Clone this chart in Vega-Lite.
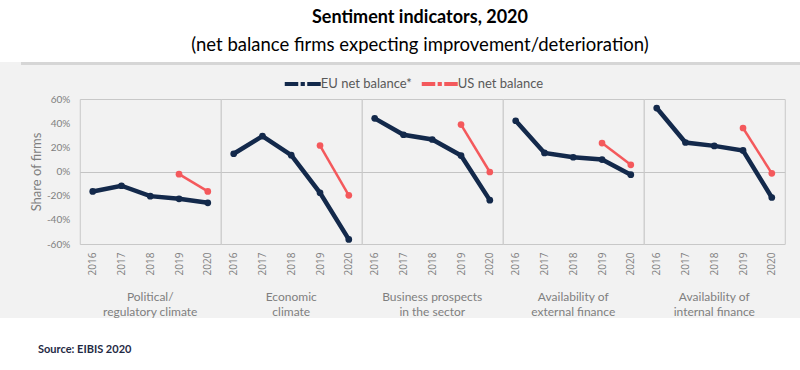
{
  "$schema": "https://vega.github.io/schema/vega-lite/v6.json",
  "background": "#f2f2f2",
  "padding": 0,
  "autosize": {"type": "pad"},
  "config": {"font": "Lato", "view": {"stroke": null}},
  "spacing": 0,
  "center": true,
  "resolve": {"legend": {"color": "independent"}},
  "vconcat": [
    {
      "width": 865,
      "height": 62,
      "view": {"fill": "white", "stroke": null},
      "data": {"values": [{"title": "Sentiment indicators, 2020", "subtitle": "(net balance firms expecting improvement/deterioration)"}]},
      "layer": [
        {"mark": {"type": "text", "fontWeight": "bold", "fontSize": 18, "dy": -13, "dx": -12.5, "color": "#000000"}, "encoding": {"text": {"field": "title"}}},
        {"mark": {"type": "text", "fontSize": 18.5, "dy": 14, "dx": -12.5, "color": "#000000"}, "encoding": {"text": {"field": "subtitle"}}}
      ]
    },
    {
      "width": 823,
      "height": 3,
      "view": {"fill": "#d6d6d6", "stroke": null},
      "mark": {"type": "text", "text": ""},
      "encoding": {}
    },
    {
      "data": {
        "values": [
          {"cat": "Political/|regulatory climate", "series": "EU net balance*", "year": "2016", "value": -16.5},
          {"cat": "Political/|regulatory climate", "series": "EU net balance*", "year": "2017", "value": -11.8},
          {"cat": "Political/|regulatory climate", "series": "EU net balance*", "year": "2018", "value": -20.4},
          {"cat": "Political/|regulatory climate", "series": "EU net balance*", "year": "2019", "value": -22.6},
          {"cat": "Political/|regulatory climate", "series": "EU net balance*", "year": "2020", "value": -25.9},
          {"cat": "Political/|regulatory climate", "series": "US net balance", "year": "2019", "value": -2.2},
          {"cat": "Political/|regulatory climate", "series": "US net balance", "year": "2020", "value": -16.5},
          {"cat": "Economic|climate", "series": "EU net balance*", "year": "2016", "value": 14.7},
          {"cat": "Economic|climate", "series": "EU net balance*", "year": "2017", "value": 29.3},
          {"cat": "Economic|climate", "series": "EU net balance*", "year": "2018", "value": 13.5},
          {"cat": "Economic|climate", "series": "EU net balance*", "year": "2019", "value": -17.6},
          {"cat": "Economic|climate", "series": "EU net balance*", "year": "2020", "value": -56.2},
          {"cat": "Economic|climate", "series": "US net balance", "year": "2019", "value": 21.5},
          {"cat": "Economic|climate", "series": "US net balance", "year": "2020", "value": -19.7},
          {"cat": "Business prospects|in the sector", "series": "EU net balance*", "year": "2016", "value": 44.0},
          {"cat": "Business prospects|in the sector", "series": "EU net balance*", "year": "2017", "value": 30.4},
          {"cat": "Business prospects|in the sector", "series": "EU net balance*", "year": "2018", "value": 26.5},
          {"cat": "Business prospects|in the sector", "series": "EU net balance*", "year": "2019", "value": 13.2},
          {"cat": "Business prospects|in the sector", "series": "EU net balance*", "year": "2020", "value": -23.7},
          {"cat": "Business prospects|in the sector", "series": "US net balance", "year": "2019", "value": 38.8},
          {"cat": "Business prospects|in the sector", "series": "US net balance", "year": "2020", "value": -0.4},
          {"cat": "Availability of|external finance", "series": "EU net balance*", "year": "2016", "value": 42.0},
          {"cat": "Availability of|external finance", "series": "EU net balance*", "year": "2017", "value": 15.4},
          {"cat": "Availability of|external finance", "series": "EU net balance*", "year": "2018", "value": 11.8},
          {"cat": "Availability of|external finance", "series": "EU net balance*", "year": "2019", "value": 9.9},
          {"cat": "Availability of|external finance", "series": "EU net balance*", "year": "2020", "value": -2.6},
          {"cat": "Availability of|external finance", "series": "US net balance", "year": "2019", "value": 23.5},
          {"cat": "Availability of|external finance", "series": "US net balance", "year": "2020", "value": 5.5},
          {"cat": "Availability of|internal finance", "series": "EU net balance*", "year": "2016", "value": 52.5},
          {"cat": "Availability of|internal finance", "series": "EU net balance*", "year": "2017", "value": 24.0},
          {"cat": "Availability of|internal finance", "series": "EU net balance*", "year": "2018", "value": 21.2},
          {"cat": "Availability of|internal finance", "series": "EU net balance*", "year": "2019", "value": 17.4},
          {"cat": "Availability of|internal finance", "series": "EU net balance*", "year": "2020", "value": -21.5},
          {"cat": "Availability of|internal finance", "series": "US net balance", "year": "2019", "value": 36.0},
          {"cat": "Availability of|internal finance", "series": "US net balance", "year": "2020", "value": -1.5}
        ]
      },
      "facet": {
        "column": {
          "field": "cat",
          "type": "nominal",
          "title": null,
          "sort": ["Political/|regulatory climate", "Economic|climate", "Business prospects|in the sector", "Availability of|external finance", "Availability of|internal finance"],
          "header": {
            "title": null,
            "labelOrient": "bottom",
            "labelExpr": "split(datum.label, '|')",
            "labelFontSize": 12,
            "labelColor": "#7f7f7f",
            "labelPadding": 17,
            "labelLineHeight": 15,
            "labelBaseline": "top"
          }
        }
      },
      "spacing": 0,
      "bounds": "flush",
      "spec": {
        "width": 141,
        "height": 145,
        "view": {"fill": "#f2f2f2", "stroke": "#c8c8c8"},
        "mark": {"type": "line", "point": {"filled": true, "size": 45}},
        "encoding": {
          "x": {
            "field": "year",
            "type": "ordinal",
            "scale": {"type": "point", "padding": 0.45},
            "axis": {"title": null, "labelAngle": 270, "labelFontSize": 10, "labelColor": "#7f7f7f", "ticks": false, "domain": false, "grid": false, "labelPadding": 8, "labelFont": "Open Sans"}
          },
          "y": {
            "field": "value",
            "type": "quantitative",
            "scale": {"domain": [-60, 60], "nice": false},
            "axis": {
              "values": [-60, -40, -20, 0, 20, 40, 60],
              "labelExpr": "datum.value + '%'",
              "labelOverlap": false,
              "labelSeparation": 0,
              "grid": true,
              "gridColor": {"condition": {"test": "datum.value === 0", "value": "#c4c4c4"}, "value": "transparent"},
              "gridWidth": 1,
              "ticks": false,
              "domain": false,
              "title": "Share of firms",
              "titleColor": "#7f7f7f",
              "titleFontWeight": "normal",
              "titleFontSize": 13,
              "labelColor": "#7f7f7f",
              "labelFontSize": 10,
              "labelPadding": 10,
              "titlePadding": 3
            }
          },
          "color": {
            "field": "series",
            "type": "nominal",
            "scale": {"domain": ["EU net balance*", "US net balance"], "range": ["#13294b", "#f4595c"]},
            "legend": {"orient": "none", "legendX": 204, "legendY": -34, "title": null, "direction": "horizontal", "padding": 11, "labelFontSize": 13, "labelColor": "#595959", "symbolType": "M-3,0H-0.75M-0.35,0H0.35M0.75,0H3", "symbolSize": 144, "symbolStrokeWidth": 4, "labelOffset": 10, "columnPadding": 1}
          },
          "strokeWidth": {
            "field": "series",
            "type": "ordinal",
            "scale": {"domain": ["EU net balance*", "US net balance"], "range": [4.5, 2.5]},
            "legend": null
          }
        }
      }
    },
    {
      "width": 865,
      "height": 50,
      "view": {"fill": "white", "stroke": null},
      "data": {"values": [{"source": "Source: EIBIS 2020"}]},
      "mark": {"type": "text", "align": "left", "fontWeight": "bold", "fontSize": 11, "color": "#1f2a44", "dx": 38, "dy": 7},
      "encoding": {
        "text": {"field": "source"},
        "x": {"datum": 0, "type": "quantitative", "scale": {"domain": [0, 1]}, "axis": null}
      }
    }
  ]
}
